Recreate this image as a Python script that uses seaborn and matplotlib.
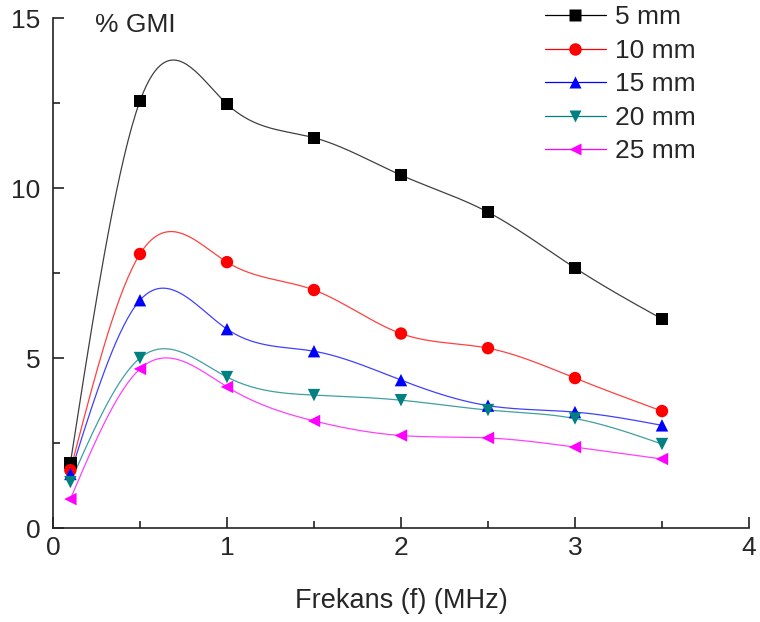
import numpy as np
import pandas as pd
import matplotlib
matplotlib.use("Agg")
import matplotlib.pyplot as plt
from matplotlib.lines import Line2D
import seaborn as sns

freq = [0.1, 0.5, 1.0, 1.5, 2.0, 2.5, 3.0, 3.5]
labels = ["5 mm", "10 mm", "15 mm", "20 mm", "25 mm"]
gmi_5 = [1.91, 12.56, 12.47, 11.48, 10.38, 9.29, 7.65, 6.15]
gmi_10 = [1.70, 8.06, 7.82, 7.00, 5.72, 5.29, 4.41, 3.44]
gmi_15 = [1.59, 6.70, 5.85, 5.20, 4.35, 3.60, 3.41, 3.02]
gmi_20 = [1.35, 5.00, 4.44, 3.91, 3.76, 3.47, 3.22, 2.47]
gmi_25 = [0.85, 4.68, 4.15, 3.15, 2.72, 2.65, 2.38, 2.03]
series = [gmi_5, gmi_10, gmi_15, gmi_20, gmi_25]

colors = ["#000000", "#ff0000", "#0000ff", "#008080", "#ff00ff"]
markers = ["s", "o", "^", "v", "<"]


def natural_spline(x, y, n=300):
    x = np.asarray(x, float)
    y = np.asarray(y, float)
    m = len(x)
    h = np.diff(x)
    A = np.zeros((m, m))
    b = np.zeros(m)
    A[0, 0] = 1
    A[-1, -1] = 1
    for i in range(1, m - 1):
        A[i, i - 1] = h[i - 1]
        A[i, i] = 2 * (h[i - 1] + h[i])
        A[i, i + 1] = h[i]
        b[i] = 3 * ((y[i + 1] - y[i]) / h[i] - (y[i] - y[i - 1]) / h[i - 1])
    c = np.linalg.solve(A, b)
    xs = np.linspace(x[0], x[-1], n)
    ys = np.empty_like(xs)
    for k, xv in enumerate(xs):
        i = min(np.searchsorted(x, xv, side="right") - 1, m - 2)
        dx = xv - x[i]
        bi = (y[i + 1] - y[i]) / h[i] - h[i] * (2 * c[i] + c[i + 1]) / 3
        di = (c[i + 1] - c[i]) / (3 * h[i])
        ys[k] = y[i] + bi * dx + c[i] * dx ** 2 + di * dx ** 3
    return xs, ys


sns.set_style("ticks")
plt.rcParams["font.family"] = ["Liberation Sans", "DejaVu Sans"]
FS = 19

fig = plt.figure(figsize=(7.6, 6.22), dpi=100)
ax = fig.add_axes([0.0697, 0.1511, 0.9158, 0.8199])

handles = []
for lab, vals, col, mk in zip(labels, series, colors, markers):
    xs, ys = natural_spline(freq, vals)
    sns.lineplot(x=xs, y=ys, ax=ax, color=col, lw=0.9, alpha=0.75, sort=False)
    df = pd.DataFrame({"f": freq, "g": vals})
    sns.scatterplot(data=df, x="f", y="g", ax=ax, color=col, marker=mk,
                    s=80, edgecolor="none", zorder=3)
    handles.append(Line2D([], [], color=col, lw=0.9, alpha=1.0, marker=mk,
                          markersize=9, markeredgecolor="none"))

ax.set_xlim(0, 4)
ax.set_ylim(0, 15)
ax.set_xticks([0, 1, 2, 3, 4])
ax.set_yticks([0, 5, 10, 15])
ax.set_xticks([0.5, 1.5, 2.5, 3.5], minor=True)
ax.set_yticks([2.5, 7.5, 12.5], minor=True)
ax.tick_params(which="major", direction="in", length=8, width=1.2, labelsize=FS, color="#222222")
ax.tick_params(axis="x", which="major", pad=6)
ax.tick_params(axis="y", which="major", pad=9)
ax.tick_params(which="minor", direction="in", length=5, width=1.2, color="#222222")
for s in ["top", "right"]:
    ax.spines[s].set_visible(False)
for s in ["left", "bottom"]:
    ax.spines[s].set_linewidth(1.2)
    ax.spines[s].set_color("#222222")

ax.set_xlabel("Frekans (f) (MHz)", fontsize=19.5, labelpad=20)
ax.set_ylabel("")
ax.text(0.24, 14.8, "% GMI", fontsize=FS, va="center", ha="left")

leg = ax.legend(handles, labels, loc="upper left", bbox_to_anchor=(0.707, 1.025),
                frameon=False, fontsize=FS, handlelength=2.3, handletextpad=0.35,
                labelspacing=0.36, borderaxespad=0, borderpad=0)

fig.savefig("out.png", dpi=100)
